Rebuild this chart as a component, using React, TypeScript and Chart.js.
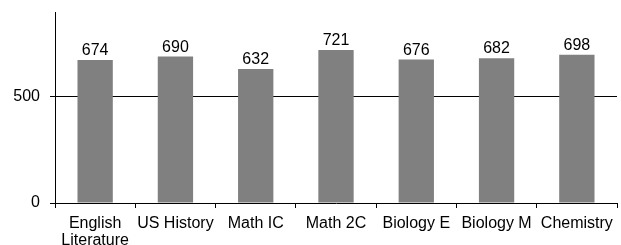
import React, { useEffect, useRef } from "react";
import { Chart, registerables } from "chart.js";

Chart.register(...registerables);

const categories: (string | string[])[] = [
  ["English", "Literature"],
  "US History",
  "Math IC",
  "Math 2C",
  "Biology E",
  "Biology M",
  "Chemistry",
];
const scores = [674, 690, 632, 721, 676, 682, 698];
const yTicks = [0, 500];
const yMax = 900;

const FONT = "'Liberation Sans', Arial, sans-serif";

const valueLabels = {
  id: "valueLabels",
  afterDatasetsDraw(chart: any) {
    const ctx = chart.ctx;
    const meta = chart.getDatasetMeta(0);
    ctx.save();
    ctx.font = `16px ${FONT}`;
    ctx.fillStyle = "#000";
    ctx.textAlign = "center";
    ctx.textBaseline = "alphabetic";
    meta.data.forEach((bar: any, i: number) => {
      ctx.fillText(String(scores[i]), bar.x, bar.y - 5);
    });
    ctx.restore();
  },
};

export default function App() {
  const ref = useRef<HTMLCanvasElement>(null);
  useEffect(() => {
    if (!ref.current) return;
    const chart = new Chart(ref.current, {
      type: "bar",
      data: {
        labels: categories,
        datasets: [
          {
            data: scores,
            backgroundColor: "#808080",
            borderWidth: 0,
            barPercentage: 0.44,
            categoryPercentage: 1,
          },
        ],
      },
      options: {
        responsive: false,
        animation: false,
        events: [],
        layout: { padding: { left: 0, top: 12, right: 4, bottom: 0 } },
        plugins: { legend: { display: false }, tooltip: { enabled: false } },
        scales: {
          x: {
            grid: {
              display: true,
              offset: true,
              drawOnChartArea: false,
              tickLength: 5,
              color: "#000",
            },
            border: { color: "#000", width: 1 },
            ticks: {
              color: "#000",
              font: { family: FONT, size: 16, lineHeight: 1.08 },
              padding: 7,
              maxRotation: 0,
              autoSkip: false,
            },
            afterFit: (s: any) => {
              s.height = 42;
              s.paddingLeft = 0;
              s.paddingRight = 0;
            },
          },
          y: {
            min: 0,
            max: yMax,
            afterBuildTicks: (axis: any) => {
              axis.ticks = yTicks.map((v) => ({ value: v }));
            },
            grid: {
              color: (c: any) => (c.tick && c.tick.value === 500 ? "#000" : "rgba(0,0,0,0)"),
              tickColor: "#000",
              tickLength: 5,
              lineWidth: 1,
            },
            border: { color: "#000", width: 1 },
            ticks: {
              color: "#000",
              font: { family: FONT, size: 16 },
              padding: 10,
            },
            afterFit: (s: any) => {
              s.width = 55;
              s.paddingTop = 0;
              s.paddingBottom = 0;
            },
          },
        },
      },
      plugins: [valueLabels],
    });
    return () => chart.destroy();
  }, []);
  return (
    <div style={{ position: "fixed", left: 0, top: 0, width: 621, height: 245, background: "#fff" }}>
      <canvas ref={ref} width={621} height={245} />
    </div>
  );
}
